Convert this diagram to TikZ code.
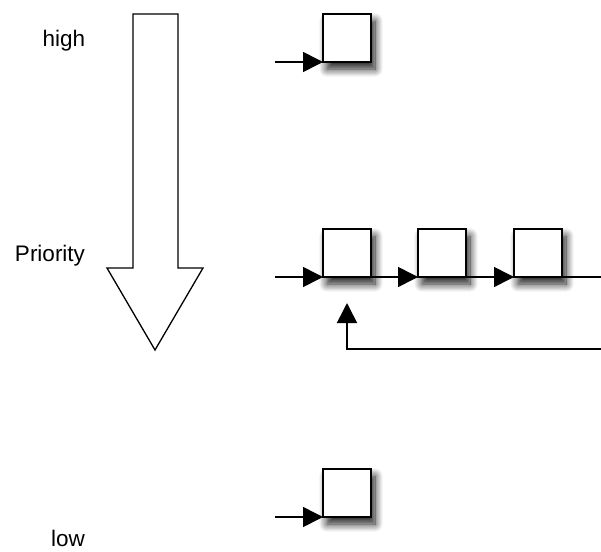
\documentclass[tikz,border=0pt]{standalone}
\usepackage{fontspec}
\setmainfont{Liberation Sans}
\usetikzlibrary{arrows.meta,shadows.blur}
\begin{document}
\begin{tikzpicture}[x=1pt,y=-1pt,
  qbox/.style={draw=black,line width=1.6pt,fill=white,minimum size=48pt,inner sep=0pt,outer sep=0pt,anchor=north west,
    blur shadow={shadow xshift=4pt,shadow yshift=-7pt,shadow blur radius=8pt,shadow blur steps=12,shadow opacity=90}},
  link/.style={line width=1.6pt,-{Triangle[length=20pt,width=20pt]}},
  plain/.style={line width=1.6pt},
  lbl/.style={font=\fontsize{22.5}{26}\selectfont,anchor=base,inner sep=0pt}]
\useasboundingbox (0,0) rectangle (601,551);
% priority arrow
\draw[line width=1.3pt,fill=white] (133,14) -- (178,14) -- (178,268) -- (203,268) -- (155,350) -- (107,268) -- (133,268) -- cycle;
% labels
\node[lbl] (high) at (64,46) {high};
\node[lbl] (prio) at (50,261) {Priority};
\node[lbl] (low) at (68,546) {low};
% high queue
\node[qbox] (h1) at (323,14) {};
\coordinate (hs) at (275,62);
\draw[link] (hs) -- (h1.south west);
% middle queue
\node[qbox] (m1) at (323,229) {};
\node[qbox] (m2) at (418,229) {};
\node[qbox] (m3) at (514,229) {};
\coordinate (ms) at (275,277);
\coordinate (me) at (601,277);
\draw[link] (ms) -- (m1.south west);
\draw[link] (m1.south east) -- (m2.south west);
\draw[link] (m2.south east) -- (m3.south west);
\draw[plain] (m3.south east) -- (me);
% feedback
\coordinate (fb0) at (601,349);
\coordinate (fb1) at (347,349);
\coordinate (fb2) at (347,303);
\draw[link] (fb0) -- (fb1) -- (fb2);
% low queue
\node[qbox] (l1) at (323,469) {};
\coordinate (ls) at (275,517);
\draw[link] (ls) -- (l1.south west);
\end{tikzpicture}
\end{document}
